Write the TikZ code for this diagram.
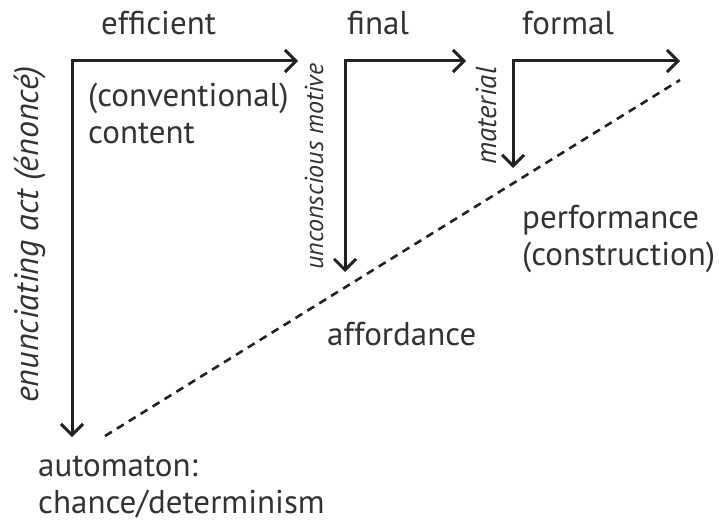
\documentclass[tikz,border=0pt]{standalone}
\usepackage{fontspec}
\setmainfont{PT Sans}
\usetikzlibrary{arrows.meta}
\definecolor{ink}{HTML}{222222}
\definecolor{txt}{HTML}{333333}
\tikzset{
  arr/.style={line width=3pt, draw=ink, {Straight Barb[length=11pt,width=22pt,line width=3pt]}-{Straight Barb[length=11pt,width=22pt,line width=3pt]}},
  dsh/.style={line width=2.6pt, draw=ink, dash pattern=on 8pt off 6pt},
  lbl/.style={text=txt, font=\fontsize{33}{37}\selectfont, inner sep=0pt, anchor=base west, align=left},
  rot/.style={text=txt, inner sep=0pt, rotate=90, anchor=base west},
}
\begin{document}
\begin{tikzpicture}[x=1pt,y=-1pt]
\useasboundingbox (0,0) rectangle (719,521);
% arrow end points
\coordinate (h1) at (298,61);
\coordinate (v1) at (72,437);
\coordinate (h2) at (466,61);
\coordinate (v2) at (345,272);
\coordinate (h3) at (680,61);
\coordinate (v3) at (513,168);
\coordinate (d1) at (105,436);
\coordinate (d2) at (680,80);
\draw[arr] (h1) -| (v1);
\draw[arr] (h2) -| (v2);
\draw[arr] (h3) -| (v3);
\draw[dsh] (d1) -- (d2);
% labels (multi-line nodes: base = last line)
\node[lbl] (eff) at (101,35) {efficient};
\node[lbl] (fin) at (347,35) {final};
\node[lbl] (frm) at (522,35) {formal};
\node[lbl] (conv) at (88,144) {(conventional)\\content};
\node[lbl] (perf) at (522,265) {performance\\(construction)};
\node[lbl] (aff) at (327,345) {affordance};
\node[lbl] (auto) at (38,513) {automaton:\\chance/determinism};
\node[rot, font=\itshape\fontsize{34}{36}\selectfont] (enun) at (38,403) {enunciating act (énoncé)};
\node[rot, font=\itshape\fontsize{26}{28}\selectfont] (unc) at (323,270) {unconscious motive};
\node[rot, font=\itshape\fontsize{29}{30}\selectfont] (mat) at (496,165) {material};
\end{tikzpicture}
\end{document}
